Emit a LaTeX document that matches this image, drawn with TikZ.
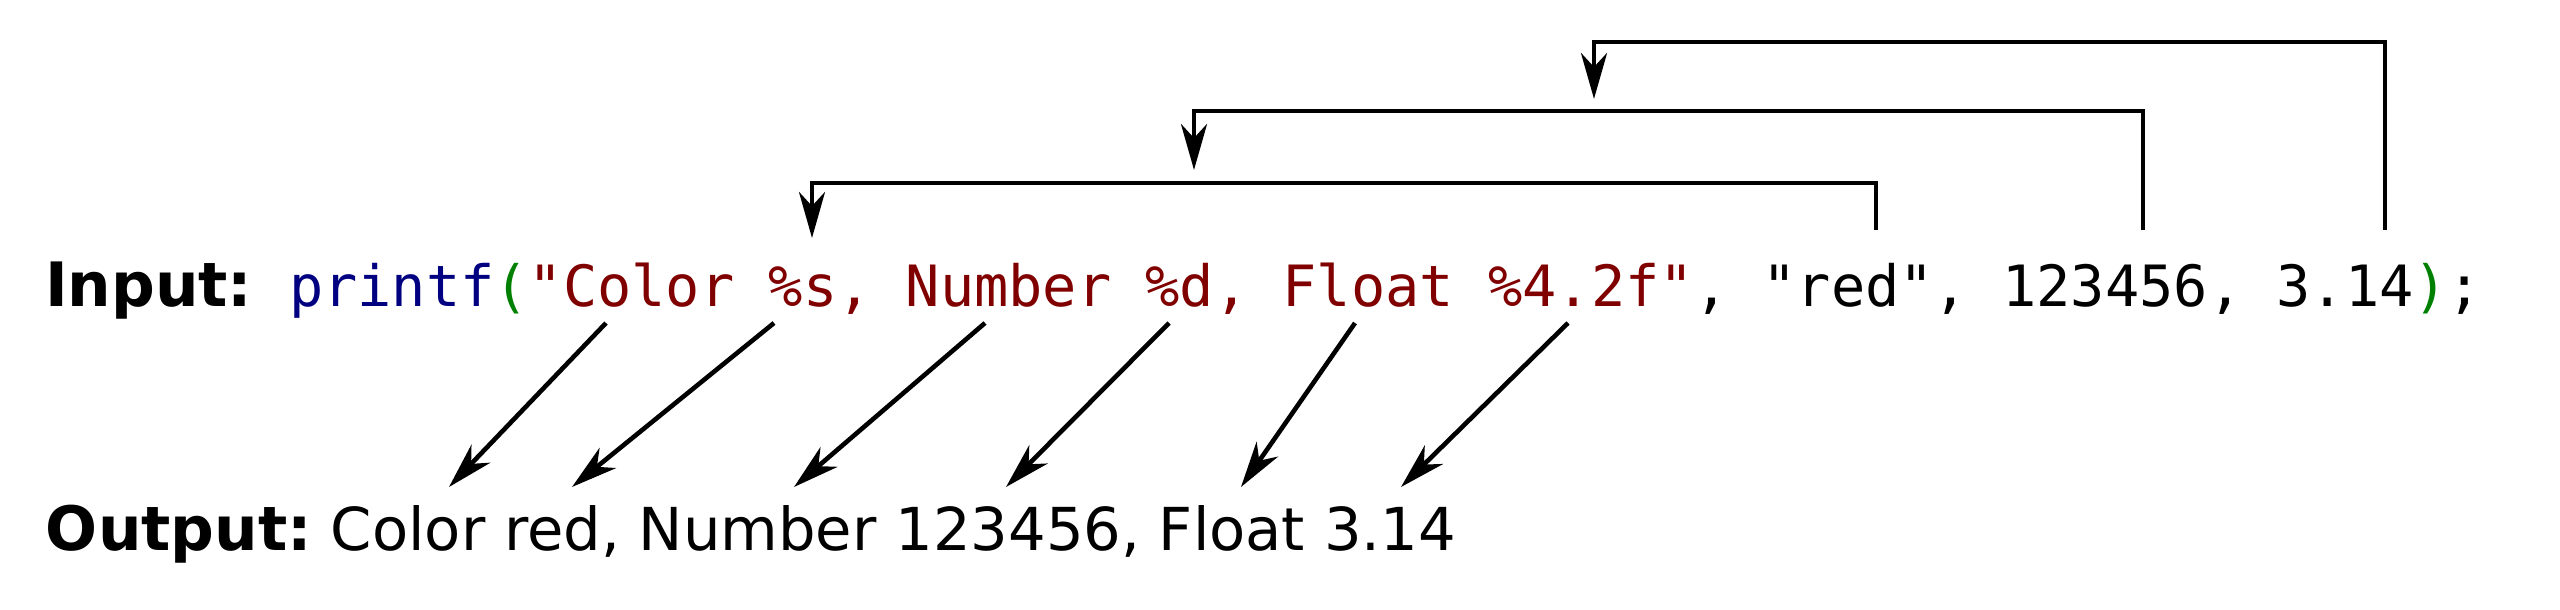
\documentclass[tikz,border=0pt]{standalone}
\usepackage{fontspec}
\setmainfont{DejaVu Sans}
\setmonofont{DejaVu Sans Mono}
\usetikzlibrary{arrows.meta}
\definecolor{fnblue}{HTML}{000080}
\definecolor{parengreen}{HTML}{008000}
\definecolor{strred}{HTML}{800000}
\tikzset{
  textline/.style={anchor=base west,inner sep=0pt,outer sep=0pt},
  arr/.style={line width=1.15pt,-{Stealth[length=11.5pt,width=6.5pt,inset=3.5pt]}}
}
\newcommand{\headword}[1]{{\fontsize{15.3}{18}\selectfont\bfseries #1}}
\frenchspacing
\begin{document}
\begin{tikzpicture}[x=0.25pt,y=-0.25pt]
  \useasboundingbox (0,0) rectangle (2560,610);

  \node[textline]
  (input) at (45,306) {\headword{Input:}};
  \node[textline,font=\fontsize{14.23}{18}\selectfont\ttfamily]
  (code) at (289,306) {\textcolor{fnblue}{printf}\textcolor{parengreen}{(}\textcolor{strred}{"Color \%s, Number \%d, Float \%4.2f"}, "red", 123456, 3.14\textcolor{parengreen}{)};};
  \node[textline,font=\fontsize{14.8}{18}\selectfont]
  (output) at (46,550) {\headword{Output:} Color red, Number 123456, Float 3.14};

  % arguments fed back into the format string
  \coordinate (argred) at (1876,230);
  \coordinate (argint) at (2143,230);
  \coordinate (argreal) at (2385,230);
  \coordinate (slots) at (812,238);
  \coordinate (slotd) at (1194,170);
  \coordinate (slotf) at (1594,99);

  \draw[arr] (argred) -- ++(0,-47) -| (slots);
  \draw[arr] (argint) -- ++(0,-119) -| (slotd);
  \draw[arr] (argreal) -- ++(0,-188) -| (slotf);

  % format string pieces down to the printed text
  \coordinate (colorword) at (606,323);
  \coordinate (pcts) at (774,323);
  \coordinate (numberword) at (985,323);
  \coordinate (pctd) at (1169,323);
  \coordinate (floatword) at (1355,323);
  \coordinate (pctf) at (1568,323);
  \coordinate (outcolor) at (449,487);
  \coordinate (outred) at (572,487);
  \coordinate (outnumber) at (794,487);
  \coordinate (outint) at (1006,487);
  \coordinate (outfloat) at (1241,487);
  \coordinate (outreal) at (1401,487);

  \draw[arr] (colorword) -- (outcolor);
  \draw[arr] (pcts) -- (outred);
  \draw[arr] (numberword) -- (outnumber);
  \draw[arr] (pctd) -- (outint);
  \draw[arr] (floatword) -- (outfloat);
  \draw[arr] (pctf) -- (outreal);
 \end{tikzpicture}
\end{document}
